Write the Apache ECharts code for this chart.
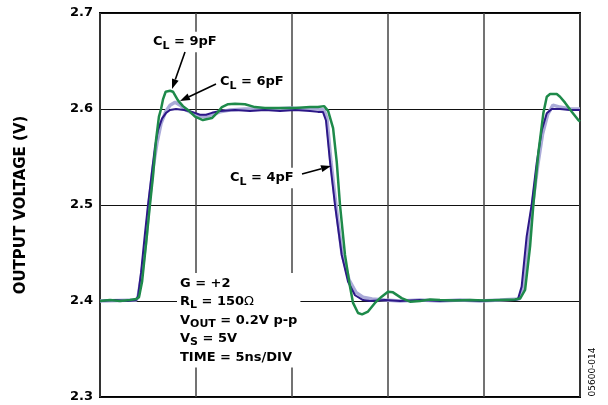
<!DOCTYPE html>
<html><head><meta charset="utf-8">
<script src="https://cdn.jsdelivr.net/npm/echarts@6/dist/echarts.min.js"></script>
<style>html,body{margin:0;padding:0;background:#fff}#c{width:608px;height:405px}</style>
</head><body><div id="c"></div>
<script>
// time in ns (5 ns/div), output voltage in V
const yTicks = [2.3, 2.4, 2.5, 2.6, 2.7];
const xTicks = [0, 5, 10, 15, 20, 25];

const t4 = [0,0.78,1.46,1.88,1.98,2.14,2.34,2.50,2.71,2.86,3.02,3.23,3.44,3.65,3.96,4.38,4.79,5.21,5.52,5.83,6.25,7.03,7.81,8.59,9.38,10.16,10.94,11.35,11.61,11.77,11.98,12.24,12.59,12.92,13.28,13.70,14.06,14.84,15.63,16.67,17.71,18.75,19.79,20.83,21.61,21.77,21.96,22.22,22.48,22.74,23.01,23.27,23.53,23.96,24.48,25];
const v4 = [2.400,2.401,2.400,2.401,2.405,2.430,2.470,2.500,2.535,2.560,2.578,2.590,2.596,2.599,2.600,2.599,2.597,2.594,2.594,2.596,2.598,2.599,2.598,2.599,2.598,2.599,2.598,2.597,2.597,2.588,2.545,2.500,2.448,2.420,2.406,2.401,2.400,2.401,2.400,2.401,2.400,2.401,2.400,2.401,2.401,2.402,2.415,2.467,2.500,2.543,2.578,2.5955,2.600,2.600,2.599,2.599];

const t6 = [0,1.88,1.98,2.19,2.40,2.55,2.76,2.97,3.18,3.44,3.65,3.91,4.17,4.48,4.79,5.10,5.47,5.83,6.25,6.77,7.55,8.33,9.11,9.90,10.68,11.35,11.67,11.82,12.03,12.29,12.60,12.97,13.33,13.70,14.17,14.84,15.63,16.67,17.71,18.75,19.79,20.83,21.82,22.03,22.29,22.53,22.79,23.05,23.31,23.59,23.96,24.48,25];
const v6 = [2.400,2.401,2.404,2.430,2.465,2.500,2.538,2.565,2.585,2.598,2.604,2.607,2.604,2.599,2.596,2.593,2.592,2.594,2.597,2.599,2.600,2.600,2.600,2.601,2.600,2.600,2.599,2.590,2.545,2.500,2.450,2.422,2.409,2.404,2.402,2.401,2.400,2.401,2.400,2.401,2.400,2.401,2.402,2.413,2.460,2.500,2.540,2.574,2.594,2.604,2.602,2.600,2.600];

const t9 = [0,0.52,1.04,1.56,1.88,2.03,2.19,2.40,2.60,2.76,2.92,3.07,3.18,3.28,3.42,3.65,3.80,4.06,4.32,4.58,4.95,5.36,5.83,6.15,6.35,6.67,7.03,7.55,8.07,8.59,9.38,10.16,10.94,11.35,11.67,11.88,12.14,12.33,12.50,12.76,13.02,13.18,13.44,13.65,13.96,14.32,14.67,15.00,15.26,15.71,16.15,16.67,17.19,17.71,18.49,19.27,20.05,20.83,21.61,21.88,22.14,22.40,22.57,22.83,23.09,23.27,23.44,23.79,23.96,24.22,24.57,24.91,25];
const v9 = [2.400,2.401,2.400,2.401,2.402,2.404,2.420,2.460,2.500,2.530,2.568,2.592,2.600,2.610,2.618,2.619,2.618,2.609,2.603,2.599,2.592,2.5885,2.5906,2.597,2.602,2.605,2.6055,2.605,2.602,2.601,2.601,2.601,2.602,2.602,2.603,2.598,2.580,2.545,2.500,2.448,2.415,2.398,2.3875,2.386,2.389,2.398,2.4045,2.4097,2.409,2.403,2.3993,2.400,2.4015,2.401,2.4005,2.401,2.4005,2.401,2.4015,2.4025,2.4115,2.457,2.500,2.554,2.5955,2.6128,2.6156,2.6156,2.6128,2.6066,2.5972,2.5885,2.587];

const zip = (t, v) => t.map((x, i) => [x, v[i]]);
const FF = '"DejaVu Sans", sans-serif';

const rich = {
  n: {fontFamily: FF, fontWeight: 'bold', fontSize: 13, lineHeight: 18.5, fill: '#000'},
  s: {fontFamily: FF, fontWeight: 'bold', fontSize: 11, lineHeight: 9, verticalAlign: 'bottom', fill: '#000'},
  o: {fontFamily: FF, fontWeight: 'normal', fontSize: 13, lineHeight: 18.5, fill: '#000'}
};
function label(txt, x, y, va) {
  return {type: 'text', x: x, y: y, z: 100,
    style: {text: txt, rich: rich, fontFamily: FF, fontWeight: 'bold', fontSize: 13, lineHeight: 18.5,
      fill: '#000', backgroundColor: '#fff', padding: [1, 3, 1, 3], textAlign: 'left', textVerticalAlign: va || 'middle'}};
}
function arrow(x1, y1, x2, y2) {
  const a = Math.atan2(y2 - y1, x2 - x1), L = 10, W = 3.5;
  const bx = x2 - L * Math.cos(a), by = y2 - L * Math.sin(a);
  const px = -Math.sin(a) * W, py = Math.cos(a) * W;
  return [
    {type: 'line', z: 101, shape: {x1: x1, y1: y1, x2: bx, y2: by}, style: {stroke: '#000', lineWidth: 1.6}},
    {type: 'polygon', z: 101, shape: {points: [[x2, y2], [bx + px, by + py], [bx - px, by - py]]}, style: {fill: '#000'}}
  ];
}

const chart = echarts.init(document.getElementById('c'), null, {renderer: 'canvas'});
chart.setOption({
  animation: false,
  backgroundColor: '#fff',
  grid: {left: 100, top: 13, right: 28, bottom: 8, show: true, borderColor: '#000', borderWidth: 2, backgroundColor: 'transparent'},
  xAxis: {type: 'value', min: xTicks[0], max: xTicks[xTicks.length - 1], interval: 5,
    axisLine: {show: false}, axisTick: {show: false}, axisLabel: {show: false},
    splitLine: {show: true, lineStyle: {color: '#444', width: 1.5}}},
  yAxis: {type: 'value', min: yTicks[0], max: yTicks[yTicks.length - 1], interval: 0.1,
    axisLine: {show: false}, axisTick: {show: false},
    axisLabel: {margin: 7, color: '#000', fontFamily: FF, fontWeight: 'bold', fontSize: 13, formatter: v => v.toFixed(1)},
    splitLine: {show: true, lineStyle: {color: '#111', width: 1}}},
  series: [
    {name: 'CL = 6pF', type: 'line', data: zip(t6, v6), showSymbol: false, lineStyle: {color: '#aaaad8', width: 3.5}},
    {name: 'CL = 4pF', type: 'line', data: zip(t4, v4), showSymbol: false, lineStyle: {color: '#2d1888', width: 2}},
    {name: 'CL = 9pF', type: 'line', data: zip(t9, v9), showSymbol: false, lineStyle: {color: '#1e8a4a', width: 2.5}}
  ],
  graphic: [
    {type: 'text', x: 21, y: 205, rotation: Math.PI / 2, z: 100,
      style: {text: 'OUTPUT VOLTAGE (V)', fontFamily: FF, fontWeight: 'bold', fontSize: 15, fill: '#000', textAlign: 'center', textVerticalAlign: 'middle'}},
    {type: 'text', x: 593, y: 372, rotation: Math.PI / 2, z: 100,
      style: {text: '05600-014', fontFamily: FF, fontSize: 9, fill: '#000', textAlign: 'center', textVerticalAlign: 'middle'}},
    label('{n|C}{s|L}{n| = 9pF}', 150, 42),
    label('{n|C}{s|L}{n| = 6pF}', 217, 82),
    label('{n|C}{s|L}{n| = 4pF}', 227, 178),
    label('G = +2\n{n|R}{s|L}{n| = 150}{o|Ω}\n{n|V}{s|OUT}{n| = 0.2V p-p}\n{n|V}{s|S}{n| = 5V}\nTIME = 5ns/DIV', 177, 273, 'top'),
    ...arrow(185, 52, 172, 89),
    ...arrow(216, 84, 180, 101),
    ...arrow(302, 174, 331, 166)
  ]
});
</script></body></html>
